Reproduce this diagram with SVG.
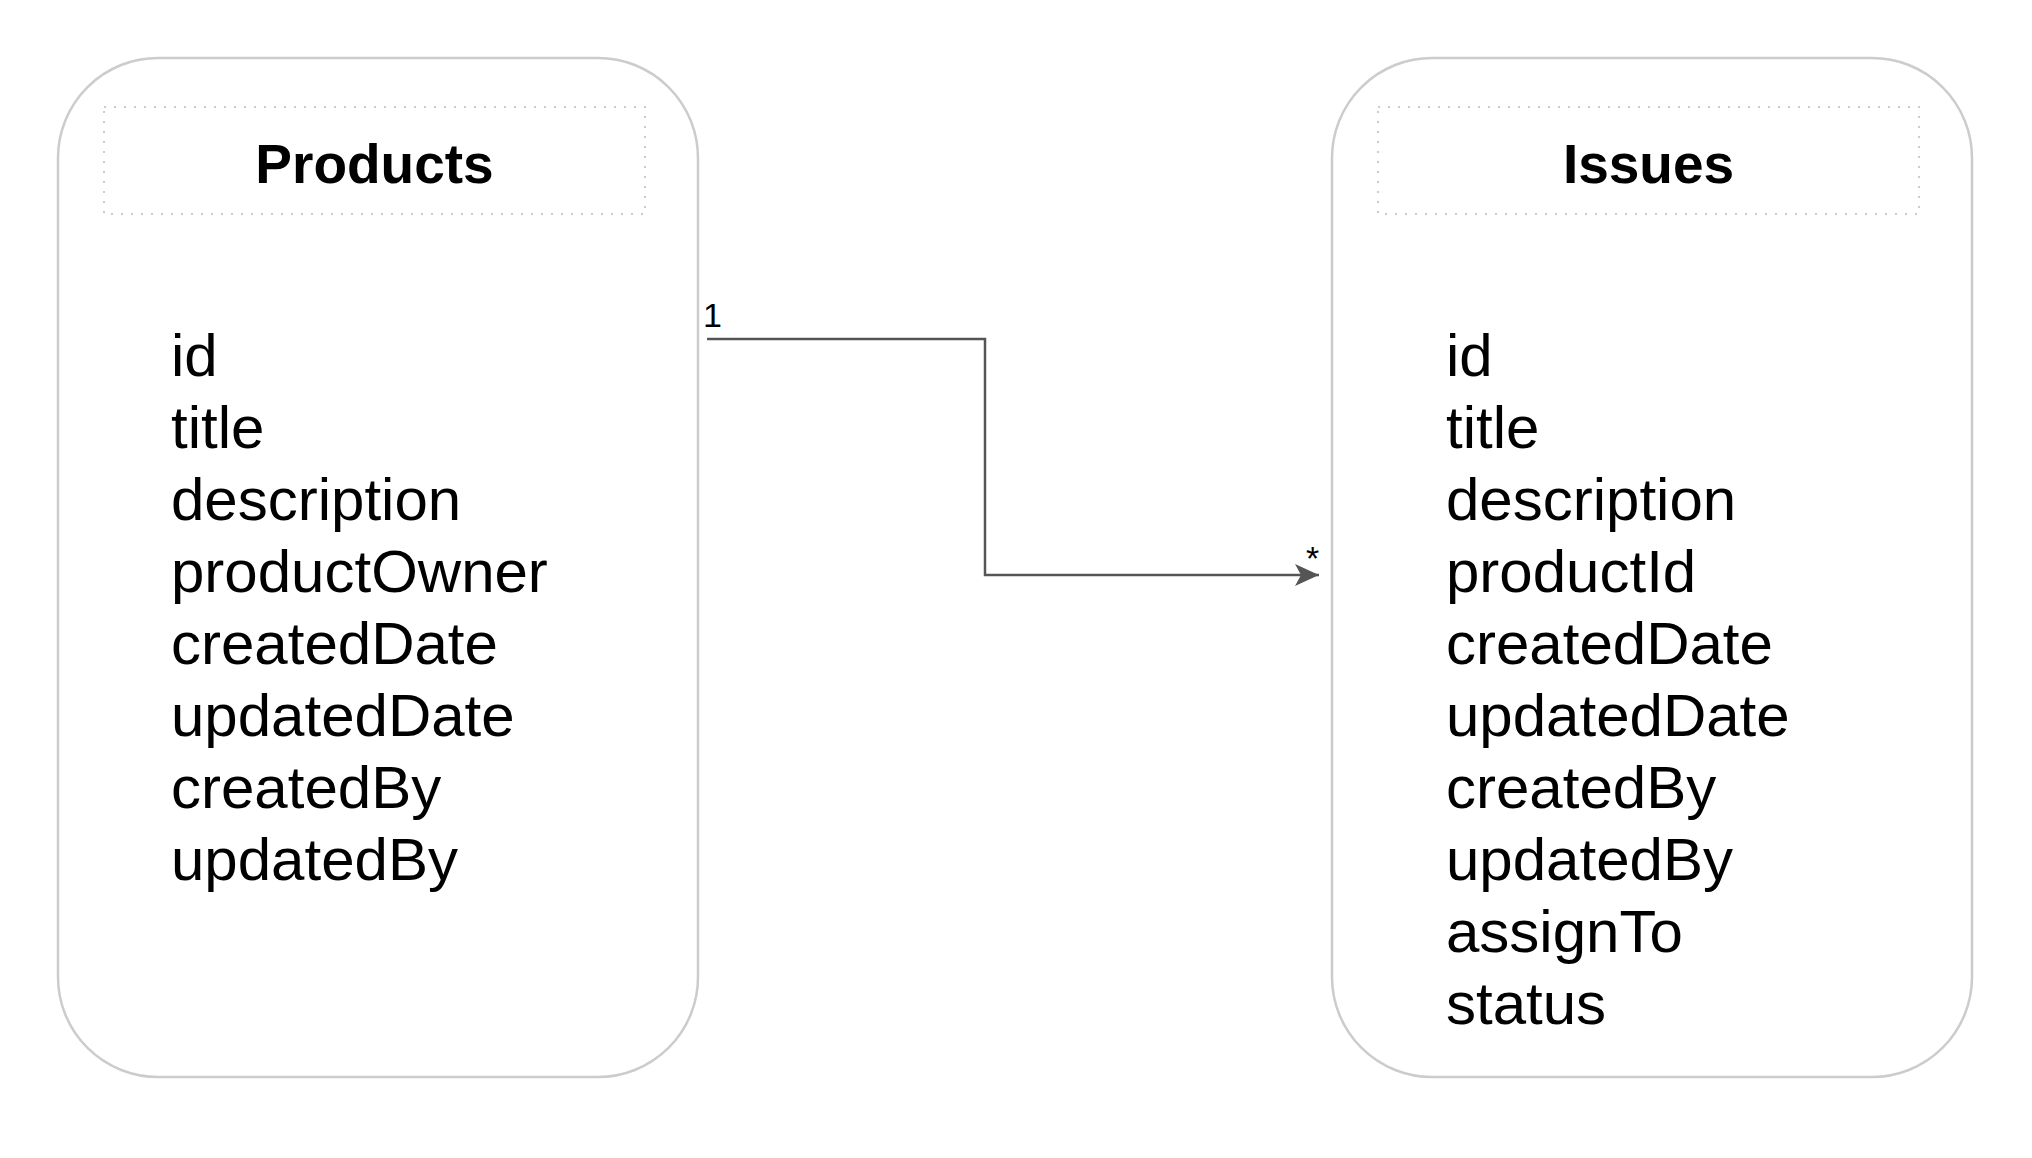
<svg xmlns="http://www.w3.org/2000/svg" width="2032" height="1158" viewBox="0 0 2032 1158">
<style>
.box{fill:#ffffff;stroke:#cccccc;stroke-width:2.5}
.hdr{fill:none;stroke:#cccccc;stroke-width:2;stroke-dasharray:2 8}
.title{font-family:"Liberation Sans",Arial,sans-serif;font-weight:bold;font-size:55px;fill:#000;text-anchor:middle}
.attr{font-family:"Liberation Sans",Arial,sans-serif;font-size:60px;fill:#000}
.lbl{font-family:"Liberation Sans",Arial,sans-serif;font-size:34px;fill:#000}
.conn{fill:none;stroke:#555555;stroke-width:2.5}
</style>
<defs>
<marker id="arr" markerUnits="userSpaceOnUse" markerWidth="30" markerHeight="30" refX="24" refY="11" orient="auto">
<path d="M0,0 L24,11 L0,22 L6,11 Z" fill="#555555"/>
</marker>
</defs>
<rect width="2032" height="1158" fill="#ffffff"/>
<g id="products">
<rect class="box" x="58" y="58" width="640" height="1019" rx="100" ry="100"/>
<rect class="hdr" x="104" y="107" width="541" height="107"/>
<text class="title" x="374.5" y="183">Products</text>
<text class="attr" x="171"><tspan x="171" y="376">id</tspan><tspan x="171" y="448">title</tspan><tspan x="171" y="520">description</tspan><tspan x="171" y="592">productOwner</tspan><tspan x="171" y="664">createdDate</tspan><tspan x="171" y="736">updatedDate</tspan><tspan x="171" y="808">createdBy</tspan><tspan x="171" y="880">updatedBy</tspan></text>
</g>
<g id="issues">
<rect class="box" x="1332" y="58" width="640" height="1019" rx="100" ry="100"/>
<rect class="hdr" x="1378" y="107" width="541" height="107"/>
<text class="title" x="1648.5" y="183">Issues</text>
<text class="attr" x="1446"><tspan x="1446" y="376">id</tspan><tspan x="1446" y="448">title</tspan><tspan x="1446" y="520">description</tspan><tspan x="1446" y="592">productId</tspan><tspan x="1446" y="664">createdDate</tspan><tspan x="1446" y="736">updatedDate</tspan><tspan x="1446" y="808">createdBy</tspan><tspan x="1446" y="880">updatedBy</tspan><tspan x="1446" y="952">assignTo</tspan><tspan x="1446" y="1024">status</tspan></text>
</g>
<g id="connectors">
<path class="conn" d="M707,339 L985,339 L985,575 L1319,575" marker-end="url(#arr)"/>
<text class="lbl" x="703" y="327">1</text>
<text class="lbl" x="1306" y="570">*</text>
</g>
</svg>
